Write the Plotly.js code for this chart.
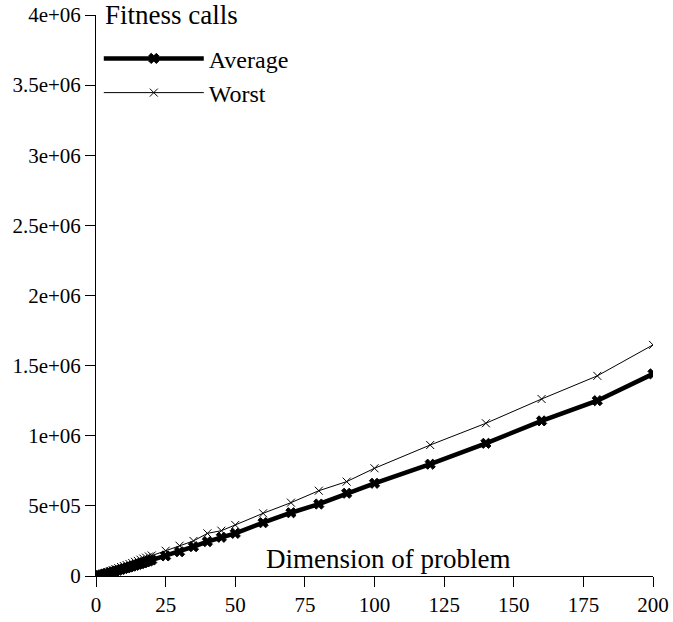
<!DOCTYPE html>
<html>
<head>
<meta charset="utf-8">
<script src="https://cdn.plot.ly/plotly-3.0.1.min.js"></script>
<style>html,body{margin:0;padding:0;background:#fff;}#chart{width:673px;height:622px;}</style>
</head>
<body>
<div id="chart"></div>
<script>
var dimensions = [1,2,3,4,5,6,7,8,9,10,11,12,13,14,15,16,17,18,19,20,25,30,35,40,45,50,60,70,80,90,100,120,140,160,180,200];
var averageCalls = [4000,9000,14000,19000,25000,30000,36000,41000,47000,53000,58000,64000,70000,76000,82000,88000,94000,101000,107000,114000,143000,173000,209000,245000,276000,304000,380000,451000,513000,590000,661000,797000,946000,1106000,1250000,1441000];
var worstCalls = [6000,13000,20000,27000,34000,41000,49000,56000,64000,71000,78000,86000,93000,101000,108000,116000,124000,131000,139000,146000,180000,216000,250000,304000,323000,364000,447000,523000,608000,673000,768000,934000,1089000,1262000,1427000,1648000];
var seriesNames = ['Average', 'Worst'];
var xTicks = [0,25,50,75,100,125,150,175,200];
var yTicks = [0,500000,1000000,1500000,2000000,2500000,3000000,3500000,4000000];
var yTickLabels = ['0','5e+05','1e+06','1.5e+06','2e+06','2.5e+06','3e+06','3.5e+06','4e+06'];

var FONT = 'Liberation Serif';

var traces = [
  {x: dimensions, y: averageCalls, name: seriesNames[0], type: 'scatter', mode: 'lines+markers',
   line: {color: '#000', width: 4.5},
   marker: {symbol: 'x', size: 9, color: '#000', line: {color: '#000', width: 1}}},
  {x: dimensions, y: worstCalls, name: seriesNames[1], type: 'scatter', mode: 'lines+markers',
   line: {color: '#000', width: 1},
   marker: {symbol: 'x-thin-open', size: 8, color: '#000', line: {color: '#000', width: 1}}}
];

var layout = {
  width: 673, height: 622,
  margin: {l: 96, r: 20, t: 15, b: 46},
  paper_bgcolor: '#fff', plot_bgcolor: '#fff',
  font: {family: FONT, size: 21, color: '#000'},
  showlegend: true,
  legend: {x: 0.005, y: 0.962, xanchor: 'left', yanchor: 'top', bgcolor: 'rgba(0,0,0,0)',
           font: {family: FONT, size: 24, color: '#000'}, itemwidth: 100, tracegroupgap: 0},
  xaxis: {range: [0, 200], tickvals: xTicks, ticks: 'outside', ticklen: 10, tickcolor: '#000',
          showline: true, linecolor: '#000', linewidth: 1, showgrid: false, zeroline: false,
          tickfont: {family: FONT, size: 21, color: '#000'}},
  yaxis: {range: [0, 4000000], tickvals: yTicks, ticktext: yTickLabels, ticks: 'outside', ticklen: 10,
          tickcolor: '#000', showline: true, linecolor: '#000', linewidth: 1, showgrid: false, zeroline: false,
          tickfont: {family: FONT, size: 21, color: '#000'}},
  annotations: [
    {text: 'Fitness calls', xref: 'paper', yref: 'paper', x: 0.013, y: 1.0, xanchor: 'left', yanchor: 'middle',
     showarrow: false, font: {family: FONT, size: 27, color: '#000'}},
    {text: 'Dimension of problem', xref: 'paper', yref: 'paper', x: 0.525, y: 0.0, xanchor: 'center', yanchor: 'bottom',
     showarrow: false, font: {family: FONT, size: 27, color: '#000'}}
  ]
};

Plotly.newPlot('chart', traces, layout, {displayModeBar: false, staticPlot: true});
</script>
</body>
</html>
